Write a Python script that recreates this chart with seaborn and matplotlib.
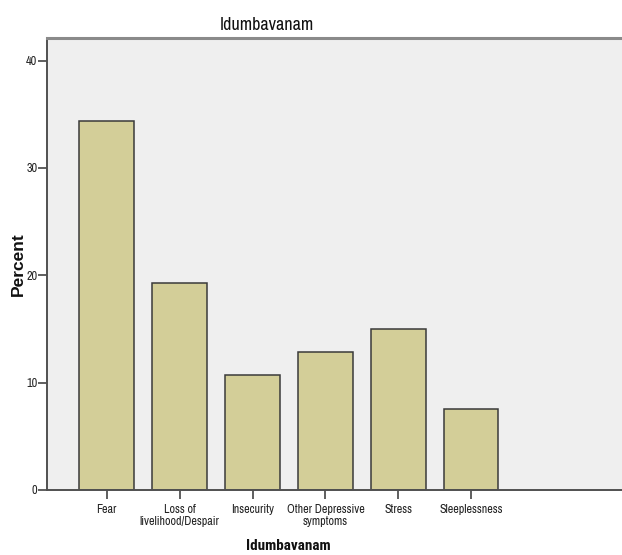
import matplotlib
matplotlib.use("Agg")
import matplotlib.pyplot as plt
import seaborn as sns
import pandas as pd

categories = ["Fear", "Loss of\nlivelihood/Despair", "Insecurity",
              "Other Depressive\nsymptoms", "Stress", "Sleeplessness"]
percent = [34.4, 19.3, 10.7, 12.9, 15.0, 7.5]
yticks = [0, 10, 20, 30, 40]

sns.set_theme(style="white")
NARROW = ["Archivo Narrow", "Roboto Condensed", "DejaVu Sans"]
plt.rcParams["font.family"] = NARROW

df = pd.DataFrame({"Idumbavanam": categories, "Percent": percent})

fig = plt.figure(figsize=(6.22, 5.55), dpi=100)
ax = fig.add_axes([47 / 622, 1 - 490 / 555, 1 - 47 / 622, (490 - 38) / 555])
ax.set_facecolor("#EFEFEF")

sns.barplot(data=df, x="Idumbavanam", y="Percent", order=categories,
            color="#D3CE98", saturation=1, width=0.75,
            edgecolor="#3a3a3a", linewidth=1.1, ax=ax)

ax.set_xlim(-0.82, 7.07)
ax.set_ylim(0, 42.1)
ax.set_yticks(yticks)
ax.set_yticklabels([str(t) for t in yticks], fontsize=8.8, color="#222222")
ax.set_xticks(range(len(categories)))
ax.set_xticklabels(categories, fontsize=8.7, color="#222222", linespacing=1.15)
ax.tick_params(axis="both", direction="out", length=6.5, width=1.1, color="#333333",
               left=True, bottom=True)
ax.tick_params(axis="y", pad=0.5)
ax.tick_params(axis="x", pad=3.5)

for s in ["left", "bottom"]:
    ax.spines[s].set_color("#505050")
    ax.spines[s].set_linewidth(1.4)
ax.spines["top"].set_color("#8a8a8a")
ax.spines["top"].set_linewidth(2.2)
ax.spines["right"].set_visible(False)

ax.set_xlabel("")
ax.set_ylabel("")
fig.text(266.5 / 622, 1 - 25 / 555, "Idumbavanam", ha="center", va="center",
         fontsize=13, color="#111111")
fig.text(288.5 / 622, 1 - 546 / 555, "Idumbavanam", ha="center", va="center",
         fontsize=11, fontweight="bold", color="#111111",
         family=["Roboto Condensed", "Archivo Narrow", "DejaVu Sans"])
fig.text(18 / 622, 1 - 264 / 555, "Percent", ha="center", va="center", rotation=90,
         fontsize=12.5, fontweight="bold", color="#111111",
         family=["Liberation Sans", "DejaVu Sans"])

fig.savefig("out.png", dpi=100, facecolor="white")
